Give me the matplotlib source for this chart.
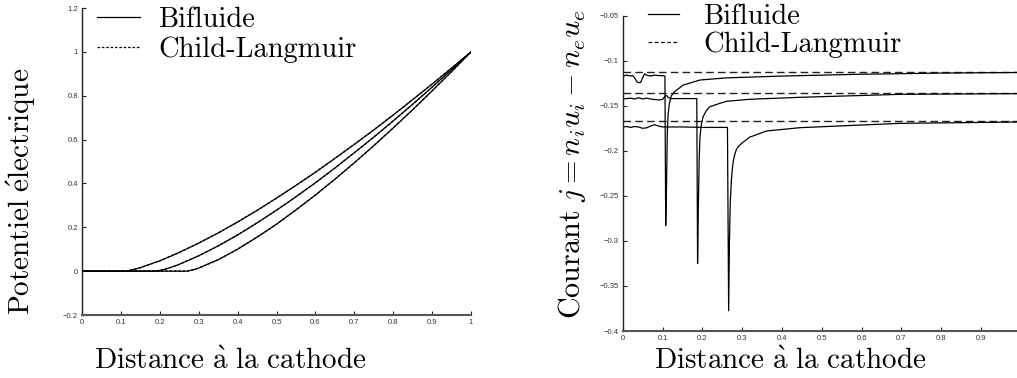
import matplotlib
matplotlib.use("Agg")
import matplotlib.pyplot as plt

plt.rcParams['mathtext.fontset'] = 'cm'

# --- left panel: electric potential, three cases (onset 0.11, 0.19, 0.27)
pot_x_a = [0, 0.11, 0.13, 0.15, 0.2, 0.25, 0.3, 0.35, 0.4, 0.45, 0.5, 0.55, 0.6,
           0.65, 0.7, 0.75, 0.8, 0.85, 0.9, 0.95, 1.0]
pot_y_a = [0, 0, 0.006, 0.016, 0.047, 0.085, 0.128, 0.174, 0.224, 0.277, 0.333,
           0.391, 0.451, 0.514, 0.578, 0.644, 0.712, 0.782, 0.853, 0.926, 1.0]
pot_x_b = [0, 0.19, 0.21, 0.23, 0.25, 0.3, 0.35, 0.4, 0.45, 0.5, 0.55, 0.6, 0.65,
           0.7, 0.75, 0.8, 0.85, 0.9, 0.95, 1.0]
pot_y_b = [0, 0, 0.007, 0.018, 0.031, 0.070, 0.115, 0.165, 0.220, 0.278, 0.339,
           0.403, 0.470, 0.540, 0.611, 0.685, 0.761, 0.839, 0.919, 1.0]
pot_x_c = [0, 0.27, 0.29, 0.3, 0.35, 0.4, 0.45, 0.5, 0.55, 0.6, 0.65, 0.7, 0.75,
           0.8, 0.85, 0.9, 0.95, 1.0]
pot_y_c = [0, 0, 0.008, 0.014, 0.052, 0.100, 0.155, 0.214, 0.279, 0.347, 0.419,
           0.494, 0.572, 0.653, 0.736, 0.822, 0.910, 1.0]

# --- right panel: current j, bifluid curves and Child-Langmuir levels
cl_levels = [-0.112, -0.136, -0.167]

cur_x_a = [0, 0.01, 0.02, 0.025, 0.03, 0.035, 0.04, 0.045, 0.05, 0.055, 0.06, 0.07,
           0.08, 0.09, 0.1, 0.106, 0.108, 0.110, 0.112, 0.114, 0.117, 0.122, 0.131,
           0.152, 0.194, 0.261, 0.4, 0.595, 0.8, 1.0]
cur_y_a = [-0.117, -0.116, -0.117, -0.1165, -0.119, -0.123, -0.1245, -0.124, -0.119,
           -0.1145, -0.116, -0.117, -0.116, -0.1165, -0.1165, -0.117, -0.283, -0.24,
           -0.18, -0.16, -0.148, -0.139, -0.134, -0.127, -0.1214, -0.119, -0.117,
           -0.115, -0.1137, -0.113]
cur_x_b = [0, 0.01, 0.02, 0.03, 0.04, 0.05, 0.06, 0.07, 0.08, 0.09, 0.1, 0.105, 0.11,
           0.115, 0.12, 0.15, 0.186, 0.188, 0.190, 0.192, 0.194, 0.197, 0.202, 0.211,
           0.219, 0.244, 0.261, 0.319, 0.445, 0.696, 1.0]
cur_y_b = [-0.1425, -0.142, -0.1415, -0.1425, -0.141, -0.1425, -0.1415, -0.1425,
           -0.143, -0.1435, -0.143, -0.140, -0.1385, -0.141, -0.142, -0.142, -0.142,
           -0.325, -0.26, -0.21, -0.185, -0.172, -0.162, -0.1547, -0.151, -0.1473,
           -0.145, -0.1428, -0.1406, -0.1373, -0.1365]
cur_x_c = [0, 0.01, 0.02, 0.03, 0.04, 0.05, 0.06, 0.07, 0.08, 0.09, 0.1, 0.15, 0.2,
           0.263, 0.266, 0.268, 0.270, 0.273, 0.2755, 0.278, 0.282, 0.286, 0.292,
           0.2986, 0.319, 0.361, 0.445, 0.696, 1.0]
cur_y_c = [-0.1735, -0.173, -0.174, -0.173, -0.1735, -0.175, -0.1745, -0.1725, -0.171,
           -0.1725, -0.1735, -0.1735, -0.174, -0.174, -0.3775, -0.30, -0.258, -0.232,
           -0.219, -0.2105, -0.203, -0.198, -0.1945, -0.1917, -0.1848, -0.178,
           -0.1743, -0.1695, -0.168]

left_xticks = [0, 0.1, 0.2, 0.3, 0.4, 0.5, 0.6, 0.7, 0.8, 0.9, 1]
left_xlabels = ['0', '0.1', '0.2', '0.3', '0.4', '0.5', '0.6', '0.7', '0.8', '0.9', '1']
left_yticks = [-0.2, 0, 0.2, 0.4, 0.6, 0.8, 1, 1.2]
left_ylabels = ['\u22120.2', '0', '0.2', '0.4', '0.6', '0.8', '1', '1.2']
right_xticks = [0, 0.1, 0.2, 0.3, 0.4, 0.5, 0.6, 0.7, 0.8, 0.9]
right_xlabels = ['0', '0.1', '0.2', '0.3', '0.4', '0.5', '0.6', '0.7', '0.8', '0.9']
right_yticks = [-0.4, -0.35, -0.3, -0.25, -0.2, -0.15, -0.1, -0.05]
right_ylabels = ['\u22120.4', '\u22120.35', '\u22120.3', '\u22120.25', '\u22120.2',
                 '\u22120.15', '\u22120.1', '\u22120.05']

W, H = 1017, 378
fig = plt.figure(figsize=(W / 100, H / 100), dpi=100)

ax1 = fig.add_axes([82 / W, 1 - 315 / H, 389 / W, 307 / H])
ax2 = fig.add_axes([622.7 / W, 1 - 331 / H, (W - 622.7) / W, 315.3 / H])

lw = 0.9
dash = (5.5, 3)

# left panel
for xs, ys in [(pot_x_a, pot_y_a), (pot_x_b, pot_y_b), (pot_x_c, pot_y_c)]:
    ax1.plot(xs, ys, color='black', lw=lw, ls=(0, (2, 1.5)))
for xs, ys in [(pot_x_a, pot_y_a), (pot_x_b, pot_y_b), (pot_x_c, pot_y_c)]:
    ax1.plot(xs, ys, color='black', lw=lw)
ax1.set_xlim(0, 1)
ax1.set_ylim(-0.2, 1.2)
ax1.set_xticks(left_xticks, left_xlabels)
ax1.set_yticks(left_yticks, left_ylabels)

# right panel
for lev in cl_levels:
    ax2.axhline(lev, color='#222222', lw=1.0, ls=(0, dash))
for xs, ys in [(cur_x_a, cur_y_a), (cur_x_b, cur_y_b), (cur_x_c, cur_y_c)]:
    ax2.plot(xs, ys, color='black', lw=lw)
ax2.set_xlim(0, 0.99)
ax2.set_ylim(-0.4, -0.05)
ax2.set_xticks(right_xticks, right_xlabels)
ax2.set_yticks(right_yticks, right_ylabels)

for ax in (ax1, ax2):
    ax.spines['top'].set_visible(False)
    ax.spines['right'].set_visible(False)
    ax.spines['left'].set_color('#222222')
    ax.spines['bottom'].set_color('#555555')
    ax.spines['bottom'].set_linewidth(1.5)
    ax.spines['left'].set_linewidth(1.0)
    ax.tick_params(direction='in', length=3, width=0.8, colors='#222222',
                   labelsize=5.5, pad=3)
    for lab in ax.get_xticklabels() + ax.get_yticklabels():
        lab.set_fontfamily('Liberation Sans')
        lab.set_color('#333333')

# legends
legend_font = {'family': 'cmr10', 'size': 20.5}
h1, = ax1.plot([], [], color='black', lw=lw)
h2, = ax1.plot([], [], color='black', lw=lw, ls=(0, (2, 1.5)))
ax1.legend([h1, h2], ['Bifluide', 'Child-Langmuir'], prop=legend_font,
           frameon=False, loc='upper left', bbox_to_anchor=(97 / W, 1 - 7 / H),
           bbox_transform=fig.transFigure, handlelength=1.5, handletextpad=0.65,
           labelspacing=0.1, borderpad=0.0, borderaxespad=0.0)
g1, = ax2.plot([], [], color='black', lw=lw)
g2, = ax2.plot([], [], color='black', lw=lw, ls=(0, (3, 2)))
ax2.legend([g1, g2], ['Bifluide', 'Child-Langmuir'], prop=legend_font,
           frameon=False, loc='upper left', bbox_to_anchor=(648 / W, 1 - 4 / H),
           bbox_transform=fig.transFigure, handlelength=1.1, handletextpad=0.85,
           labelspacing=0.05, borderpad=0.0, borderaxespad=0.0)

# axis titles
fig.text(230 / W, 1 - 361 / H, r'$\mathrm{Distance\ \grave{a}\ la\ cathode}$',
         fontsize=21, ha='center', va='center')
fig.text(790 / W, 1 - 361 / H, r'$\mathrm{Distance\ \grave{a}\ la\ cathode}$',
         fontsize=21, ha='center', va='center')
fig.text(21 / W, 1 - 191 / H, r'$\mathrm{Potentiel\ \acute{e}lectrique}$',
         fontsize=21, ha='center', va='center', rotation=90)
fig.text(572 / W, 1 - 164 / H, r'$\mathrm{Courant}\ j = n_i u_i - n_e u_e$',
         fontsize=21.7, ha='center', va='center', rotation=90)

fig.savefig('out.png', dpi=100)
